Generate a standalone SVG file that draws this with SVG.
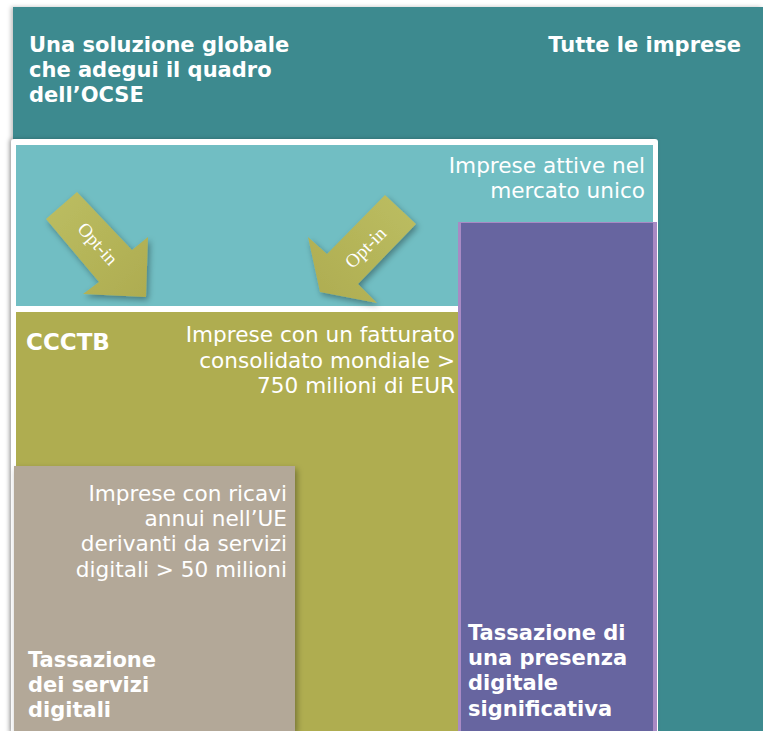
<svg xmlns="http://www.w3.org/2000/svg" width="763" height="731" viewBox="0 0 763 731">
<style>
.b{font-family:"DejaVu Sans","Verdana",sans-serif;font-weight:bold;font-size:21px;fill:#ffffff}
.r{font-family:"DejaVu Sans","Verdana",sans-serif;font-size:21.6px;fill:#ffffff;text-anchor:end}
.opt{font-family:"Liberation Serif","Times New Roman",serif;font-size:19px;fill:#ffffff;text-anchor:middle}
</style>
<defs>
<filter id="sh" x="-20%" y="-20%" width="150%" height="150%">
<feDropShadow dx="2" dy="3" stdDeviation="3" flood-color="#000" flood-opacity="0.35"/>
</filter>
<filter id="sh2" x="-5%" y="-5%" width="110%" height="110%">
<feDropShadow dx="-2" dy="0" stdDeviation="2" flood-color="#000" flood-opacity="0.25"/>
</filter>
<linearGradient id="ga" x1="0" y1="0" x2="1" y2="1">
<stop offset="0" stop-color="#bcbe62"/>
<stop offset="1" stop-color="#aeac50"/>
</linearGradient>
<linearGradient id="gb" x1="1" y1="0" x2="0" y2="1">
<stop offset="0" stop-color="#bcbe62"/>
<stop offset="1" stop-color="#aeac50"/>
</linearGradient>
</defs>
<g id="tutte">
<rect x="13" y="7" width="750" height="724" fill="#3d8a8f" filter="url(#sh2)"/>
<text class="b" x="29" y="52">Una soluzione globale</text>
<text class="b" x="29" y="77">che adegui il quadro</text>
<text class="b" x="29" y="102">dell’OCSE</text>
<text class="b" x="741" y="52" text-anchor="end">Tutte le imprese</text>
</g>
<g id="mercato">
<rect x="11" y="139" width="647" height="600" rx="3" fill="#ffffff" filter="url(#sh2)"/>
<rect x="16" y="145" width="637" height="161" fill="#71bec3"/>
<text class="r" x="645" y="173">Imprese attive nel</text>
<text class="r" x="645" y="198">mercato unico</text>
</g>
<g id="ccctb">
<rect x="16" y="312" width="442" height="419" fill="#afad50"/>
<text class="b" x="26" y="350" style="font-size:23px">CCCTB</text>
<text class="r" x="455" y="342">Imprese con un fatturato</text>
<text class="r" x="455" y="368">consolidato mondiale &gt;</text>
<text class="r" x="455" y="393">750 milioni di EUR</text>
</g>
<g id="servizi">
<rect x="14" y="466" width="281" height="265" fill="#b3a898" filter="url(#sh)"/>
<text class="r" x="287" y="501">Imprese con ricavi</text>
<text class="r" x="287" y="526">annui nell’UE</text>
<text class="r" x="287" y="551">derivanti da servizi</text>
<text class="r" x="287" y="577">digitali &gt; 50 milioni</text>
<text class="b" x="28" y="667">Tassazione</text>
<text class="b" x="28" y="692">dei servizi</text>
<text class="b" x="28" y="717">digitali</text>
</g>
<g id="presenza">
<rect x="458" y="222" width="199" height="509" fill="#a88ac4"/>
<rect x="461" y="223" width="192" height="508" fill="#6765a0"/>
<text class="b" x="468" y="640">Tassazione di</text>
<text class="b" x="468" y="665">una presenza</text>
<text class="b" x="468" y="690">digitale</text>
<text class="b" x="468" y="716">significativa</text>
</g>
<g id="connectors">
<g id="optin-left">
<polygon points="77,192 132,250 148,237 146,297 83,294 99,282 46,219" fill="url(#ga)" filter="url(#sh)"/>
<text class="opt" transform="translate(93,248) rotate(48)">Opt-in</text>
</g>
<g id="optin-right">
<polygon points="385,195 416,224 358,284 377,303 320,292 308,237 327,254" fill="url(#gb)" filter="url(#sh)"/>
<text class="opt" transform="translate(370,252) rotate(-45)">Opt-in</text>
</g>
</g>
</svg>
